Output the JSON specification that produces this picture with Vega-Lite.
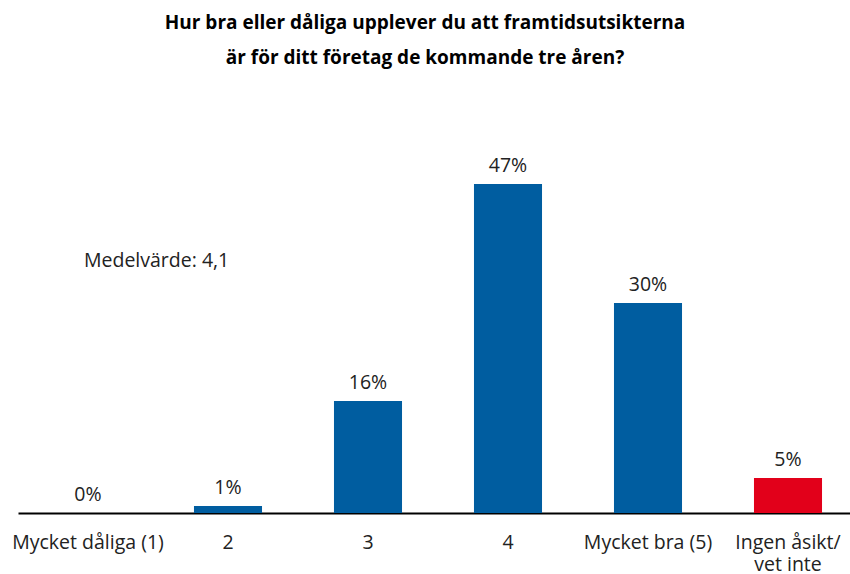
{
  "$schema": "https://vega.github.io/schema/vega-lite/v6.json",
  "autosize": {"type": "none"},
  "width": 840,
  "height": 350,
  "padding": {"left": 18, "top": 163, "right": 0, "bottom": 61},
  "background": "white",
  "config": {"view": {"stroke": null}, "font": "Open Sans"},
  "title": {
    "text": ["Hur bra eller dåliga upplever du att framtidsutsikterna", "är för ditt företag de kommande tre åren?"],
    "fontSize": 19,
    "fontWeight": "bold",
    "color": "#000000",
    "font": "Open Sans",
    "lineHeight": 35,
    "anchor": "middle",
    "dx": -13,
    "offset": 88
  },
  "layer": [
    {
      "data": {"values": [
        {"kategori": "Mycket dåliga (1)", "andel": 0, "etikett": "0%", "typ": "svar"},
        {"kategori": "2", "andel": 1, "etikett": "1%", "typ": "svar"},
        {"kategori": "3", "andel": 16, "etikett": "16%", "typ": "svar"},
        {"kategori": "4", "andel": 47, "etikett": "47%", "typ": "svar"},
        {"kategori": "Mycket bra (5)", "andel": 30, "etikett": "30%", "typ": "svar"},
        {"kategori": "Ingen åsikt/ vet inte", "andel": 5, "etikett": "5%", "typ": "vet ej"}
      ]},
      "encoding": {
        "x": {
          "field": "kategori", "type": "nominal",
          "sort": ["Mycket dåliga (1)", "2", "3", "4", "Mycket bra (5)", "Ingen åsikt/ vet inte"],
          "scale": {"paddingInner": 0.514, "paddingOuter": 0.257},
          "axis": {
            "title": null, "labelAngle": 0, "ticks": false,
            "domainColor": "#000000", "domainWidth": 2,
            "labelFontSize": 19.5, "labelColor": "#222222", "labelFont": "Open Sans",
            "labelPadding": 20, "labelLineHeight": 22,
            "labelExpr": "datum.label == 'Ingen åsikt/ vet inte' ? ['Ingen åsikt/', 'vet inte'] : datum.label"
          }
        },
        "y": {"field": "andel", "type": "quantitative", "scale": {"domain": [0, 50]}, "axis": null}
      },
      "layer": [
        {
          "mark": {"type": "bar"},
          "encoding": {
            "color": {"field": "typ", "type": "nominal", "scale": {"domain": ["svar", "vet ej"], "range": ["#005DA0", "#E2001A"]}, "legend": null}
          }
        },
        {
          "mark": {"type": "text", "baseline": "bottom", "dy": -8, "fontSize": 19.5, "color": "#222222", "font": "Open Sans"},
          "encoding": {"text": {"field": "etikett", "type": "nominal"}}
        }
      ]
    },
    {
      "data": {"values": [{"kategori": "Mycket dåliga (1)", "andel": 36, "text": "Medelvärde: 4,1"}]},
      "mark": {"type": "text", "align": "left", "baseline": "middle", "dx": -4, "fontSize": 19.5, "color": "#222222", "font": "Open Sans"},
      "encoding": {
        "x": {"field": "kategori", "type": "nominal", "sort": ["Mycket dåliga (1)", "2", "3", "4", "Mycket bra (5)", "Ingen åsikt/ vet inte"]},
        "y": {"field": "andel", "type": "quantitative"},
        "text": {"field": "text"}
      }
    }
  ]
}
